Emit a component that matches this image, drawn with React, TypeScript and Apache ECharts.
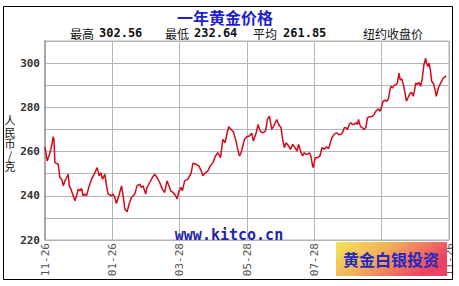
import React, { useEffect, useRef } from 'react';
import * as echarts from 'echarts';

const tickLabels = ['11-26', '01-26', '03-28', '05-28', '07-28', '09-28', '11-26'];

const days = [
  0, 2, 4.5, 6, 7.5, 8.1, 9, 12, 13.5, 15.1, 16.6, 18.1, 19.6, 21.1, 22, 23.5, 25, 27.1, 28.6, 30.1,
  31.6, 33.1, 34.6, 36.1, 37.6, 40.1, 42.2, 45.2, 47.3, 49.1, 50.6, 52.1, 54.2, 55.7, 57.2, 60.2,
  61.7, 63.2, 64.7, 66.9, 69.3, 70.8, 72.3, 74.4, 76.2, 78.3, 81.3, 83.4, 85.8, 87.3, 88.8, 91.2,
  92.4, 94.9, 97.3, 99.4, 101.5, 103.9, 106.3, 108.4, 110.5, 112.3, 113.8, 116, 118.4, 119.6, 121.4,
  123.5, 124.4, 126.5, 129.5, 132.5, 134, 137, 139.4, 141.6, 143, 145.5, 147.6, 149.7, 152.1, 154.5,
  156.6, 159, 161.1, 163.2, 165, 166.5, 168.6, 170.8, 172.6, 174.7, 176.2, 177.7, 179.2, 180.7, 182.8,
  185.2, 187.3, 188.8, 191.2, 193, 194.9, 197.3, 199.7, 201.5, 203.3, 205.4, 207.2, 209.9, 211.7,
  213.8, 215.3, 216.8, 218.3, 220.8, 222.3, 224.4, 226.5, 228.3, 229.8,
  231.9, 233.4, 234.9, 236.4, 237.9, 239.4, 240.9, 242.4, 243, 244.9, 247, 249.1, 250.9, 253, 255.1,
  256.9, 258.1, 259.9, 262, 264.1, 265.9, 268, 269.5, 271.1, 272.6, 274.1, 275.6, 277.1, 278.6, 280.1,
  281.6, 283.1, 284, 285.2, 286.1, 287.6, 289.1, 290.6, 292.1, 293.6, 295.2, 296.7, 298.2, 299.7,
  302.1, 303.6, 305.1, 306.3, 308.1, 309.6, 311.1, 312.3, 313.2, 314.7, 316.2, 317.7, 319.2, 320.8,
  321.7, 323.2, 324.7, 326.2, 327.4, 329.2, 330.7, 332.2, 333.7, 334.6, 335.8, 337.3, 338.8, 340.3,
  341.8, 343.3, 344.8, 345.7, 346.9, 347.9, 349.1, 350.3, 351.8, 353.3, 354.5, 356.3, 357.8, 359.3,
  360.8, 362.3, 363.2,
];

const prices = [
  262, 255.75, 259.5, 262.5, 266.7, 265.5, 255, 254.25, 248.25, 247.5, 244.5, 246.75, 248.25, 249.75,
  244.5, 243, 240.75, 237.75, 240, 243, 242.25, 243.3, 240, 240.75, 240, 244.5, 247.5, 250.5, 252.75,
  249, 250.5, 247.5, 249.75, 244.5, 240.75, 240, 240.75, 239.25, 236.5, 240, 244.5, 240, 234, 232.8,
  236.25, 239.25, 240.75, 244.5, 245.25, 243.75, 244.5, 240.75, 243.75, 246, 248.25, 249.75, 248.25,
  246, 243, 241.5, 246.75, 244.5, 242.25, 241.5, 240, 238.5, 242.25, 243.75, 242.25, 246.75, 247.5,
  250.5, 254.7, 254.25, 253.5, 251.25, 249, 250.5, 251.25, 253.5, 255, 258, 259.5, 257.25, 265.5, 264,
  268.5, 271.2, 270, 268.8, 265.5, 261, 258, 259.5, 262.5, 265.5, 266.7, 267, 268.25, 264.75, 268.25,
  272.25, 269.25, 268.5, 269.25, 274.5, 276, 270, 271.5, 274.5, 272.25, 270.75, 265.5, 261.75, 264,
  262.5, 261, 263.25, 261.75, 260.25, 263.25,
  259.5, 258, 259.5, 258.75, 258.75, 259.5, 258, 253.5, 252.75, 257.25, 257.25, 258, 261.75, 261,
  262.2, 261.3, 263.25, 266.25, 267.75, 268.5, 267.75, 267.75, 268.5, 270.75, 270.75, 270, 272.25, 273,
  272.25, 272.25, 273, 272.25, 274.5, 272.25, 271.2, 270.75, 270, 270.75, 275.25, 275.7, 275.7, 276,
  276.75, 278.25, 279.3, 278.25, 280.5, 282.75, 283.2, 282.75, 283.8, 287.25, 289.5, 288.75, 289.8,
  290.25, 291, 295.5, 292.5, 292.8, 290.25, 286.5, 282.75, 284.7, 286.2, 286.8, 285, 287.25, 291,
  290.25, 291.3, 289.5, 293.25, 299.25, 302.25, 299.75, 298.5, 300, 297, 291.75, 291, 288, 285, 288.75,
  290.25, 291.75, 293.25, 293.7, 294.3,
];

const statLabels = ['最高', '最低', '平均'];
const statValues = ['302.56', '232.64', '261.85'];
const unitChars = ['人', '民', '币', '/', '克'];

export default function App() {
  const ref = useRef<HTMLDivElement>(null);
  useEffect(() => {
    const chart = echarts.init(ref.current!, null, { renderer: 'svg' });
    const data = days.map((d, i) => [d, prices[i]]);
    const statLabelX = [70, 165, 253];
    const statValueX = [99, 194, 283];
    const graphic: any[] = [
      {
        type: 'rect',
        z: 100,
        shape: { x: 3.5, y: 6.5, width: 449, height: 273 },
        style: { fill: 'none', stroke: '#000', lineWidth: 1 },
      },
      {
        type: 'text',
        z: 100,
        x: 225,
        y: 16.5,
        style: {
          text: '一年黄金价格',
          fill: '#1f1fd0',
          font: 'bold 16px "Noto Sans CJK SC"',
          align: 'center',
          verticalAlign: 'middle',
        },
      },
      {
        type: 'text',
        z: 100,
        x: 363,
        y: 33,
        style: {
          text: '纽约收盘价',
          fill: '#111',
          font: '12px "Noto Sans CJK SC"',
          align: 'left',
          verticalAlign: 'middle',
        },
      },
      {
        type: 'text',
        z: 100,
        x: 229,
        y: 235,
        style: {
          text: 'www.kitco.cn',
          fill: '#2323a8',
          font: 'bold 15px "DejaVu Sans Mono"',
          align: 'center',
          verticalAlign: 'middle',
        },
      },
      {
        type: 'rect',
        z: 100,
        shape: { x: 336, y: 242, width: 111, height: 34 },
        style: {
          fill: new echarts.graphic.LinearGradient(0, 0, 1, 0.4, [
            { offset: 0, color: '#f2e655' },
            { offset: 0.45, color: '#f2b05a' },
            { offset: 1, color: '#ee4262' },
          ]),
        },
      },
      {
        type: 'text',
        z: 101,
        x: 391,
        y: 259,
        style: {
          text: '黄金白银投资',
          fill: '#2228c0',
          font: 'bold 16px "Noto Sans CJK SC"',
          align: 'center',
          verticalAlign: 'middle',
        },
      },
    ];
    unitChars.forEach((c, i) => {
      graphic.push({
        type: 'text',
        z: 100,
        x: 10,
        y: 120 + i * 11.6,
        style: {
          text: c,
          fill: '#111',
          font: '11px "Noto Sans CJK SC"',
          lineHeight: 11,
          align: 'center',
          verticalAlign: 'middle',
        },
      });
    });
    statLabels.forEach((l, i) => {
      graphic.push({
        type: 'text',
        z: 100,
        x: statLabelX[i],
        y: 33,
        style: { text: l, fill: '#111', font: '12px "Noto Sans CJK SC"', align: 'left', verticalAlign: 'middle' },
      });
      graphic.push({
        type: 'text',
        z: 100,
        x: statValueX[i],
        y: 33,
        style: {
          text: statValues[i],
          fill: '#111',
          font: 'bold 12px "DejaVu Sans Mono"',
          align: 'left',
          verticalAlign: 'middle',
        },
      });
    });

    chart.setOption({
      animation: false,
      backgroundColor: '#fff',
      grid: { left: 45, top: 41, right: 10, bottom: 46, show: true, borderColor: '#b0b0b0', borderWidth: 1 },
      xAxis: {
        type: 'value',
        min: 0,
        max: 366,
        interval: 61,
        axisLine: { show: false },
        axisTick: { show: false },
        splitLine: { show: true, lineStyle: { color: '#b4b4b4', width: 1 } },
        axisLabel: {
          rotate: 90,
          margin: 3,
          formatter: (v: number) => tickLabels[Math.round(v / 61)] ?? '',
          fontFamily: 'DejaVu Sans Mono',
          fontSize: 11,
          color: '#555',
        },
      },
      yAxis: {
        type: 'value',
        min: 220,
        max: 310,
        interval: 10,
        axisLine: { show: true, lineStyle: { color: '#a8a8a8', width: 2 } },
        axisTick: { show: false },
        splitLine: { show: true, lineStyle: { color: '#b4b4b4', width: 1 } },
        axisLabel: {
          margin: 5,
          formatter: (v: number) => (v % 20 === 0 ? String(v) : ''),
          fontFamily: 'DejaVu Sans Mono',
          fontWeight: 'bold',
          fontSize: 11,
          color: '#333',
        },
      },
      series: [
        {
          type: 'line',
          data,
          symbol: 'none',
          showSymbol: false,
          lineStyle: { color: '#d40a1a', width: 1.5 },
        },
      ],
      graphic,
    });
    return () => chart.dispose();
  }, []);
  return <div ref={ref} style={{ position: 'absolute', left: 0, top: 0, width: 459, height: 286 }} />;
}
